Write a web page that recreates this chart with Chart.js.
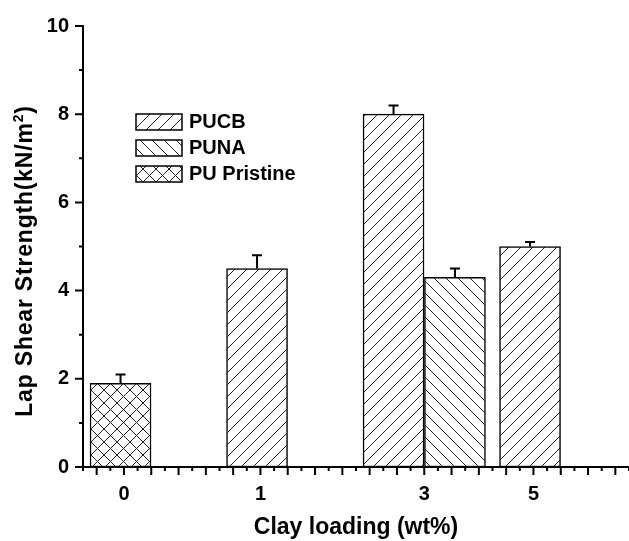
<!DOCTYPE html>
<html lang="en">
<head>
<meta charset="UTF-8">
<title>Lap Shear Strength</title>
<script src="https://cdn.jsdelivr.net/npm/chart.js"></script>
<style>
  body { margin: 0; background: #fff; }
  .wrap { width: 629px; height: 541px; }
</style>
</head>
<body>
<div class="wrap"><canvas id="shearChart" width="629" height="541"></canvas></div>
<script>
// clay loading labels and where they sit on the x axis (axis units)
const loadings = ['0', '1', '3', '5'];
const loadingTicks = [3, 13, 25, 33];

// bar slots (axis units), values and error
const pucbX = [12.75, 22.75, 32.75];
const pucbVals = [4.5, 8.0, 5.0];
const pucbErr = [0.3, 0.2, 0.1];

const punaX = [27.25];
const punaVals = [4.3];
const punaErr = [0.2];

const pristineX = [2.75];
const pristineVals = [1.9];
const pristineErr = [0.2];

const FONT = 'Arial, "Liberation Sans", sans-serif';

// hatch tiles: '/', '\' or 'x'
function hatch(kind, s) {
    const c = document.createElement('canvas');
    c.width = c.height = s;
    const g = c.getContext('2d');
    g.fillStyle = '#fff';
    g.fillRect(0, 0, s, s);
    g.strokeStyle = '#222';
    g.lineWidth = 1;
    g.beginPath();
    if (kind === '/' || kind === 'x') {
        g.moveTo(0, s); g.lineTo(s, 0);
        g.moveTo(-1, 1); g.lineTo(1, -1);
        g.moveTo(s - 1, s + 1); g.lineTo(s + 1, s - 1);
    }
    if (kind === '\\' || kind === 'x') {
        g.moveTo(0, 0); g.lineTo(s, s);
        g.moveTo(-1, s - 1); g.lineTo(1, s + 1);
        g.moveTo(s - 1, -1); g.lineTo(s + 1, 1);
    }
    g.stroke();
    return g.createPattern(c, 'repeat');
}

const pts = (xs, vals) => xs.map((x, i) => ({ x: x, y: vals[i] }));

function makeSet(label, xs, vals, err, kind, tile) {
    return {
        label: label,
        data: pts(xs, vals),
        errors: err,
        backgroundColor: hatch(kind, tile),
        borderColor: '#000',
        borderWidth: 1.5,
        borderSkipped: false,
        barThickness: 61,
        grouped: false
    };
}

const decor = {
    id: 'decor',
    beforeDraw(chart) {
        const ctx = chart.ctx;
        ctx.save();
        ctx.fillStyle = '#fff';
        ctx.fillRect(0, 0, chart.width, chart.height);
        ctx.restore();
    },
    afterDatasetsDraw(chart) {
        const ctx = chart.ctx;
        const ys = chart.scales.y;
        ctx.save();
        ctx.strokeStyle = '#000';
        ctx.lineWidth = 2;
        chart.data.datasets.forEach((ds, d) => {
            chart.getDatasetMeta(d).data.forEach((bar, i) => {
                const top = ys.getPixelForValue(ds.data[i].y + ds.errors[i]);
                ctx.beginPath();
                ctx.moveTo(bar.x, bar.y);
                ctx.lineTo(bar.x, top);
                ctx.moveTo(bar.x - 5, top);
                ctx.lineTo(bar.x + 5, top);
                ctx.stroke();
            });
        });
        ctx.restore();
    },
    afterDraw(chart) {
        const ctx = chart.ctx;
        const xs = chart.scales.x, ys = chart.scales.y;
        ctx.save();
        ctx.strokeStyle = '#000';
        ctx.lineWidth = 2;
        ctx.beginPath();
        for (let v = xs.min; v <= xs.max; v++) {
            const px = xs.getPixelForValue(v);
            const len = v % 2 ? 8 : 4;
            ctx.moveTo(px, xs.top);
            ctx.lineTo(px, xs.top + len);
        }
        for (let v = ys.min; v <= ys.max; v++) {
            const py = ys.getPixelForValue(v);
            const len = v % 2 ? 4 : 8;
            ctx.moveTo(ys.right, py);
            ctx.lineTo(ys.right - len, py);
        }
        ctx.stroke();

        // legend inside the plot
        ctx.font = 'bold 20px ' + FONT;
        ctx.textBaseline = 'middle';
        ctx.fillStyle = '#000';
        chart.data.datasets.forEach((ds, i) => {
            const y = 114 + i * 26;
            ctx.fillStyle = ds.backgroundColor;
            ctx.fillRect(136, y, 46, 16);
            ctx.lineWidth = 1.5;
            ctx.strokeRect(136, y, 46, 16);
            ctx.fillStyle = '#000';
            ctx.fillText(ds.label, 189, y + 8.5);
        });

        // y axis title with superscript
        const main = 'Lap Shear Strength(kN/m', sup = '2', tail = ')';
        ctx.translate(32, 261);
        ctx.rotate(-Math.PI / 2);
        ctx.textBaseline = 'alphabetic';
        ctx.letterSpacing = '0.8px';
        ctx.font = 'bold 23px ' + FONT;
        const wMain = ctx.measureText(main).width, wTail = ctx.measureText(tail).width;
        ctx.font = 'bold 14px ' + FONT;
        const wSup = ctx.measureText(sup).width;
        let x = -(wMain + wSup + wTail) / 2;
        ctx.font = 'bold 23px ' + FONT;
        ctx.fillText(main, x, 0);
        x += wMain;
        ctx.font = 'bold 14px ' + FONT;
        ctx.fillText(sup, x, -9);
        x += wSup;
        ctx.font = 'bold 23px ' + FONT;
        ctx.fillText(tail, x, 0);
        ctx.restore();
    }
};

const tickFont = { family: FONT, size: 20, weight: 'bold' };

new Chart(document.getElementById('shearChart'), {
    type: 'bar',
    data: {
        datasets: [
            makeSet('PUCB', pucbX, pucbVals, pucbErr, '/', 12),
            makeSet('PUNA', punaX, punaVals, punaErr, '\\', 12),
            makeSet('PU Pristine', pristineX, pristineVals, pristineErr, 'x', 13)
        ]
    },
    options: {
        responsive: false,
        animation: false,
        layout: { padding: { top: 22, right: 0, bottom: 0, left: 0 } },
        plugins: { legend: { display: false }, tooltip: { enabled: false } },
        scales: {
            x: {
                type: 'linear',
                min: 0,
                max: 40,
                offset: false,
                grid: { display: false, drawTicks: false },
                border: { color: '#000', width: 2 },
                afterBuildTicks(s) {
                    s.ticks = [];
                    for (let v = 0; v <= 40; v++) s.ticks.push({ value: v });
                },
                ticks: {
                    autoSkip: false,
                    maxRotation: 0,
                    padding: 15,
                    color: '#000',
                    font: tickFont,
                    callback(v) {
                        const i = loadingTicks.indexOf(v);
                        return i >= 0 ? loadings[i] : '';
                    }
                },
                title: {
                    display: true,
                    text: 'Clay loading (wt%)',
                    color: '#000',
                    font: { family: FONT, size: 23, weight: 'bold' },
                    padding: { top: 0, bottom: 0 }
                },
                afterFit(s) {
                    s.height = 74;
                    s.paddingLeft = 0;
                    s.paddingRight = 0;
                }
            },
            y: {
                min: 0,
                max: 10,
                grid: { display: false, drawTicks: false },
                border: { color: '#000', width: 2 },
                ticks: {
                    stepSize: 1,
                    autoSkip: false,
                    padding: 14,
                    color: '#000',
                    font: tickFont,
                    callback: v => (v % 2 === 0 ? v : '')
                },
                afterFit(s) { s.width = 83; }
            }
        }
    },
    plugins: [decor]
});
</script>
</body>
</html>
